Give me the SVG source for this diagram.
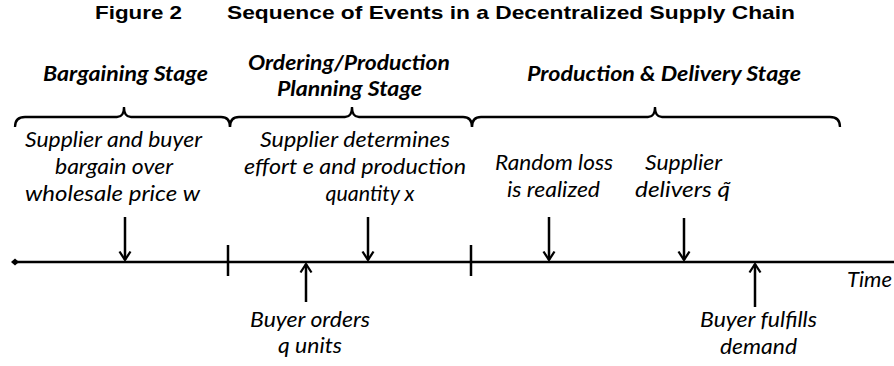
<svg xmlns="http://www.w3.org/2000/svg" width="894" height="366" viewBox="0 0 894 366">
<style>
.title{font-family:"Liberation Sans",Arial,sans-serif;font-weight:bold;font-size:19px;fill:#000}
.stage{font-family:Lato,"Liberation Sans",sans-serif;font-weight:bold;font-style:italic;font-size:21px;fill:#000;text-anchor:middle}
.ev{font-family:Lato,"Liberation Sans",sans-serif;font-style:italic;font-size:22px;fill:#000;text-anchor:middle}
.ln{stroke:#000;stroke-width:2.5;fill:none}
.br{stroke:#000;stroke-width:2.3;fill:none}
</style>
<defs>
<marker id="ah" markerUnits="userSpaceOnUse" markerWidth="16" markerHeight="16" viewBox="-10 -8 12 16" refX="0" refY="0" orient="auto">
<path d="M-8.5,-5.5 L0,0 L-8.5,5.5" fill="none" stroke="#000" stroke-width="2.3"/>
</marker>
</defs>
<g id="title">
<text class="title" x="95" y="19" textLength="87" lengthAdjust="spacingAndGlyphs">Figure 2</text>
<text class="title" x="227" y="19" textLength="568" lengthAdjust="spacingAndGlyphs">Sequence of Events in a Decentralized Supply Chain</text>
</g>
<g id="stage-bargaining">
<text class="stage" x="125.5" y="81" textLength="165" lengthAdjust="spacingAndGlyphs">Bargaining Stage</text>
<path class="br" d="M15,127 Q15,117 25,117 L117,117 Q124,117 124,107 Q124,117 131,117 L221,117 Q230,117 230,127"/>
</g>
<g id="stage-ordering">
<text class="stage" x="349" y="70" textLength="202" lengthAdjust="spacingAndGlyphs">Ordering/Production</text>
<text class="stage" x="349.5" y="96" textLength="145" lengthAdjust="spacingAndGlyphs">Planning Stage</text>
<path class="br" d="M230,127 Q230,117 239,117 L345,117 Q352,117 352,107 Q352,117 359,117 L463,117 Q472,117 472,127"/>
</g>
<g id="stage-delivery">
<text class="stage" x="664" y="81" textLength="274" lengthAdjust="spacingAndGlyphs">Production &amp; Delivery Stage</text>
<path class="br" d="M472,127 Q472,117 481,117 L648,117 Q655,117 655,107 Q655,117 662,117 L830,117 Q840,117 840,127"/>
</g>
<g id="timeline">
<line class="ln" x1="15" y1="262" x2="894" y2="262"/>
<path d="M11,262 L15,258.5 L19,262 L15,265.5 Z" fill="#000"/>
<line class="ln" x1="228" y1="245" x2="228" y2="276"/>
<line class="ln" x1="471" y1="245" x2="471" y2="276"/>
<text class="ev" x="869.5" y="287" textLength="45" lengthAdjust="spacingAndGlyphs">Time</text>
</g>
<g id="event-bargain">
<text class="ev" x="113.5" y="147" textLength="177" lengthAdjust="spacingAndGlyphs">Supplier and buyer</text>
<text class="ev" x="114" y="174" textLength="118" lengthAdjust="spacingAndGlyphs">bargain over</text>
<text class="ev" x="112.5" y="201" textLength="175" lengthAdjust="spacingAndGlyphs">wholesale price w</text>
</g>
<g id="event-effort">
<text class="ev" x="355" y="147" textLength="190" lengthAdjust="spacingAndGlyphs">Supplier determines</text>
<text class="ev" x="355" y="174" textLength="222" lengthAdjust="spacingAndGlyphs">effort e and production</text>
<text class="ev" x="370" y="201" textLength="89" lengthAdjust="spacingAndGlyphs">quantity x</text>
</g>
<g id="event-loss">
<text class="ev" x="554" y="170" textLength="118" lengthAdjust="spacingAndGlyphs">Random loss</text>
<text class="ev" x="553.5" y="197" textLength="93" lengthAdjust="spacingAndGlyphs">is realized</text>
</g>
<g id="event-deliver">
<text class="ev" x="683.5" y="170" textLength="77" lengthAdjust="spacingAndGlyphs">Supplier</text>
<text class="ev" x="682.5" y="197" textLength="95" lengthAdjust="spacingAndGlyphs">delivers  q̃</text>
</g>
<g id="event-order">
<text class="ev" x="310" y="327" textLength="120" lengthAdjust="spacingAndGlyphs">Buyer orders</text>
<text class="ev" x="310" y="353" textLength="64" lengthAdjust="spacingAndGlyphs">q units</text>
</g>
<g id="event-fulfill">
<text class="ev" x="758.5" y="327" textLength="117" lengthAdjust="spacingAndGlyphs">Buyer fulfills</text>
<text class="ev" x="758.5" y="354" textLength="77" lengthAdjust="spacingAndGlyphs">demand</text>
</g>
<g id="connectors">
<line class="ln" x1="125" y1="217" x2="125" y2="260" marker-end="url(#ah)"/>
<line class="ln" x1="368" y1="217" x2="368" y2="260" marker-end="url(#ah)"/>
<line class="ln" x1="549" y1="217" x2="549" y2="260" marker-end="url(#ah)"/>
<line class="ln" x1="684" y1="218" x2="684" y2="260" marker-end="url(#ah)"/>
<line class="ln" x1="306" y1="302" x2="306" y2="264" marker-end="url(#ah)"/>
<line class="ln" x1="755" y1="307" x2="755" y2="264" marker-end="url(#ah)"/>
</g>
</svg>
